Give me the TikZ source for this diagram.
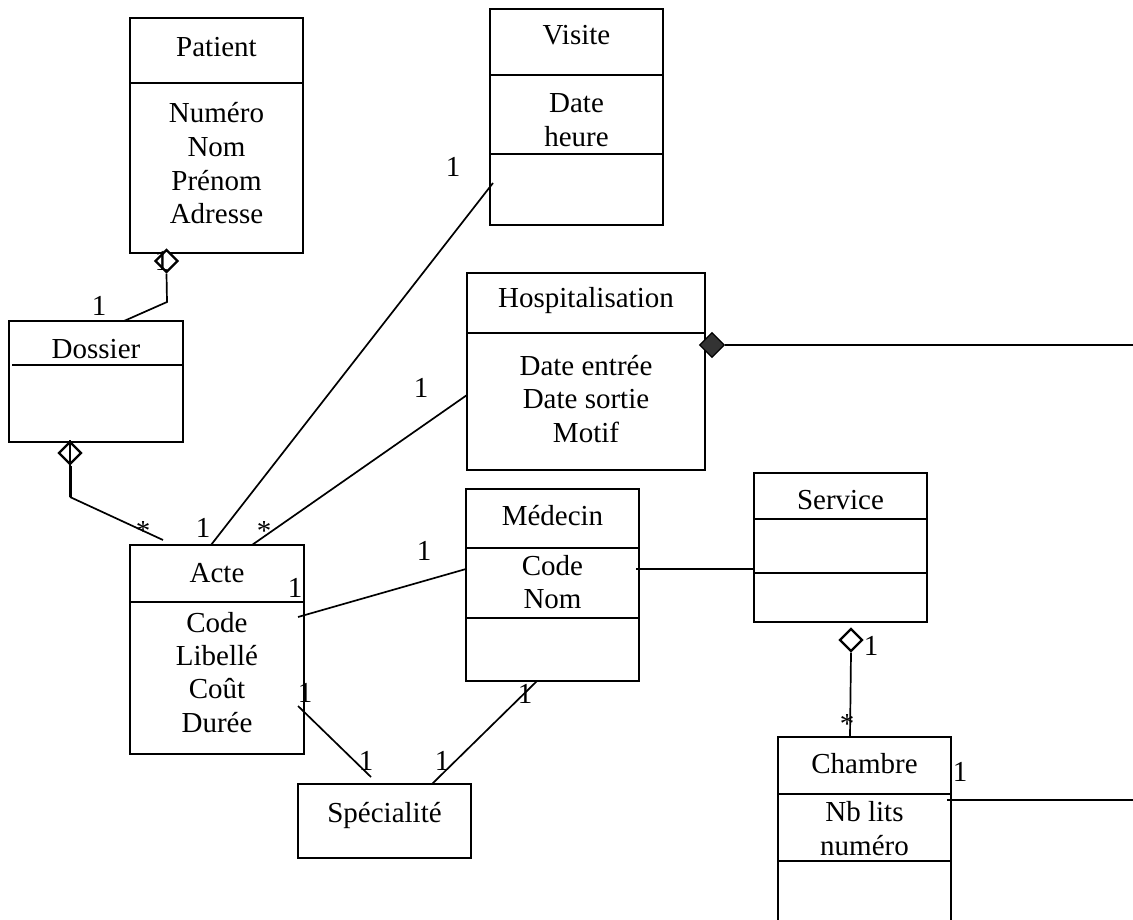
\documentclass[tikz,border=0pt]{standalone}
\usepackage{fontspec}
\setmainfont{Liberation Serif}
\usetikzlibrary{shapes.geometric,calc}
\begin{document}
\begin{tikzpicture}[x=1pt,y=-1pt,
  box/.style={draw,line width=1.6pt,rectangle,inner sep=0pt,outer sep=0pt,anchor=north west},
  divider/.style={line width=2.1pt},
  conn/.style={line width=1.7pt},
  txt/.style={inner sep=0pt,anchor=base,font=\fontsize{29}{34}\selectfont},
  mult/.style={txt},
  odiamond/.style={draw,diamond,aspect=1,fill=white,line width=2.3pt,minimum width=23pt,minimum height=23pt,inner sep=0pt},
  fdiamond/.style={draw,diamond,aspect=1,fill=black!80,line width=1.3pt,minimum width=25pt,minimum height=25pt,inner sep=0pt},
]
\useasboundingbox (0,0) rectangle (1133,920);
\begin{scope}
\clip (0,0) rectangle (1133,920);

% ---------- class boxes ----------
\node[box,minimum width=173pt,minimum height=235pt] (patient) at (130,18) {};
\draw[divider] ($(patient.north west)+(0,65)$) -- ($(patient.north east)+(0,65)$);

\node[box,minimum width=173pt,minimum height=216pt] (visite) at (490,9) {};
\draw[divider] ($(visite.north west)+(0,66)$) -- ($(visite.north east)+(0,66)$);
\draw[divider] ($(visite.north west)+(0,145)$) -- ($(visite.north east)+(0,145)$);

\node[box,minimum width=238pt,minimum height=197pt] (hosp) at (467,273) {};
\draw[divider] ($(hosp.north west)+(0,60)$) -- ($(hosp.north east)+(0,60)$);

\node[box,minimum width=174pt,minimum height=121pt] (dossier) at (9,321) {};
\draw[divider] ($(dossier.north west)+(3,44)$) -- ($(dossier.north east)+(0,44)$);

\node[box,minimum width=174pt,minimum height=209pt] (acte) at (130,545) {};
\draw[divider] ($(acte.north west)+(0,57)$) -- ($(acte.north east)+(0,57)$);

\node[box,minimum width=173pt,minimum height=192pt] (medecin) at (466,489) {};
\draw[divider] ($(medecin.north west)+(0,59)$) -- ($(medecin.north east)+(0,59)$);
\draw[divider] ($(medecin.north west)+(0,129)$) -- ($(medecin.north east)+(0,129)$);

\node[box,minimum width=173pt,minimum height=74pt] (specialite) at (298,784) {};

\node[box,minimum width=173pt,minimum height=149pt] (service) at (754,473) {};
\draw[divider] ($(service.north west)+(0,46)$) -- ($(service.north east)+(0,46)$);
\draw[divider] ($(service.north west)+(0,100)$) -- ($(service.north east)+(0,100)$);

\node[box,minimum width=173pt,minimum height=220pt] (chambre) at (778,737) {};
\draw[divider] ($(chambre.north west)+(0,57)$) -- ($(chambre.north east)+(0,57)$);
\draw[divider] ($(chambre.north west)+(0,124)$) -- ($(chambre.north east)+(0,124)$);

% ---------- texts ----------
\node[txt] (tPatient) at (216.5,57) {Patient};
\node[txt] (tP1) at (216.5,123) {Numéro};
\node[txt] (tP2) at (216.5,157) {Nom};
\node[txt] (tP3) at (216.5,191) {Prénom};
\node[txt] (tP4) at (216.5,224) {Adresse};

\node[txt] (tVisite) at (576.5,45) {Visite};
\node[txt] (tV1) at (576.5,113) {Date};
\node[txt] (tV2) at (576.5,147) {heure};

\node[txt] (tHosp) at (586,308) {Hospitalisation};
\node[txt] (tH1) at (586,375) {Date entrée};
\node[txt] (tH2) at (586,408) {Date sortie};
\node[txt] (tH3) at (586,442) {Motif};

\node[txt] (tDossier) at (96,358) {Dossier};

\node[txt] (tActe) at (217,582) {Acte};
\node[txt] (tA1) at (217,632) {Code};
\node[txt] (tA2) at (217,665) {Libellé};
\node[txt] (tA3) at (217,698) {Coût};
\node[txt] (tA4) at (217,732) {Durée};

\node[txt] (tMedecin) at (552.5,525) {Médecin};
\node[txt] (tM1) at (552.5,575) {Code};
\node[txt] (tM2) at (552.5,608) {Nom};

\node[txt] (tSpec) at (384.5,822) {Spécialité};

\node[txt] (tService) at (840.5,509) {Service};

\node[txt] (tChambre) at (864.5,773) {Chambre};
\node[txt] (tC1) at (864.5,821) {Nb lits};
\node[txt] (tC2) at (864.5,855) {numéro};

% ---------- connection points ----------
\coordinate (pBend) at (167,302);
\coordinate (dosTop) at (124,321);
\coordinate (dBend) at (70,497);
\coordinate (acteTL) at (163,540);
\coordinate (acteT1) at (211,545);
\coordinate (visL) at (493,183);
\coordinate (acteT2) at (252,545);
\coordinate (hospL) at (467,395);
\coordinate (acteR1) at (298,617);
\coordinate (medL) at (466,569);
\coordinate (medR) at (636,569);
\coordinate (servL) at (754,569);
\coordinate (acteR2) at (298,706);
\coordinate (specT1) at (371,777);
\coordinate (specT2) at (432,784);
\coordinate (medB) at (537,681);
\coordinate (rightH) at (1133,345);
\coordinate (chamT) at (850,737);
\coordinate (chamR) at (947,800);
\coordinate (rightC) at (1133,800);

% ---------- diamonds ----------
\node[odiamond] (pdia) at (166.5,261) {};
\node[odiamond] (ddia) at (70,453) {};
\node[odiamond] (sdia) at (851,640) {};
\node[fdiamond] (hdia) at (712,345) {};

% ---------- connectors ----------
\draw[conn] (pdia.south) -- (pBend) -- (dosTop);
\draw[line width=1.3pt] (ddia.north) -- (ddia.south);
\draw[line width=3pt] (ddia.south) -- (dBend);
\draw[conn] (dBend) -- (acteTL);
\draw[conn] (acteT1) -- (visL);
\draw[conn] (acteT2) -- (hospL);
\draw[conn] (acteR1) -- (medL);
\draw[conn] (medR) -- (servL);
\draw[conn] (acteR2) -- (specT1);
\draw[conn] (specT2) -- (medB);
\draw[conn] (hdia.east) -- (rightH);
\draw[conn] (sdia.south) -- (chamT);
\draw[conn] (chamR) -- (rightC);

% ---------- multiplicities ----------
\node[mult] (mPd) at (162,270) {1};
\node[mult] (mDos) at (99,315) {1};
\node[mult] (mVis) at (453,177) {1};
\node[mult] (mHosp) at (421,397) {1};
\node[mult] (mA1) at (143,540) {*};
\node[mult] (mA2) at (203,537) {1};
\node[mult] (mA3) at (264,540) {*};
\node[mult] (mA4) at (295,597) {1};
\node[mult] (mMed1) at (424,560) {1};
\node[mult] (mA5) at (305,702) {1};
\node[mult] (mSp1) at (366,770) {1};
\node[mult] (mSp2) at (442,770) {1};
\node[mult] (mMed2) at (525,703) {1};
\node[mult] (mServ) at (871,655) {1};
\node[mult] (mCh1) at (847,733) {*};
\node[mult] (mCh2) at (960,781) {1};
\end{scope}
\end{tikzpicture}
\end{document}
